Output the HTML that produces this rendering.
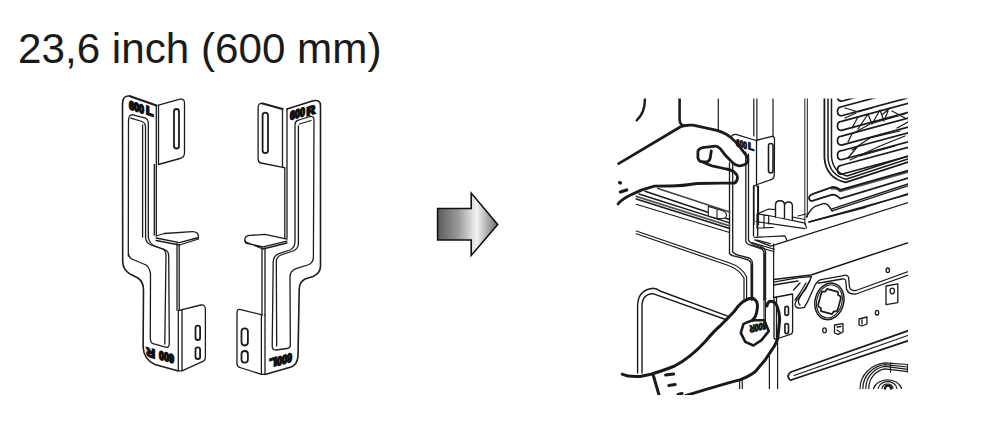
<!DOCTYPE html>
<html><head><meta charset="utf-8">
<style>
html,body{margin:0;padding:0;background:#fff;width:1000px;height:443px;overflow:hidden}
.t{position:absolute;left:18px;top:25px;font-family:"Liberation Sans",sans-serif;font-size:42.2px;color:#1a1a1a;white-space:nowrap}
svg{position:absolute;left:0;top:0}
</style></head><body>
<div class="t">23,6 inch (600 mm)</div>
<svg width="1000" height="443" viewBox="0 0 1000 443">
<defs>
<linearGradient id="ag" x1="437" y1="0" x2="498" y2="0" gradientUnits="userSpaceOnUse">
<stop offset="0" stop-color="#5a5a5a"/>
<stop offset="0.35" stop-color="#9a9a9a"/>
<stop offset="0.65" stop-color="#f2f2f2"/>
<stop offset="1" stop-color="#6a6a6a"/>
</linearGradient>
</defs>
<!-- LEFT BRACKET -->
<g fill="none" stroke="#1c1c1c" stroke-width="1.3" stroke-linejoin="round" stroke-linecap="round">
<!-- outer outline -->
<path d="M156.5,105.5 L130,96.2" stroke-width="2.2"/>
<path d="M130,96.2 Q122.5,95 122.5,104 L122.7,261.5 Q123,270 130,274 L138,278 Q143.5,282 143.5,290 L143.1,347.3 Q144,360 154.9,364.5 L177.4,370.8" stroke-width="1.6"/>
<!-- top flange -->
<path d="M158.5,105.2 L180,99.2 Q184.5,98.2 184.5,103 L184.5,152.5 Q184.5,157.5 180,158.5 L158.5,164.5"/>
<path d="M156.3,105.5 V235.5 M158.5,105.5 V164.5 M154.3,164.5 V235"/>
<rect x="174" y="109" width="5" height="39.5" rx="2.5" stroke-width="1.8"/>
<!-- tab -->
<path d="M156,236 L164.2,233.5 L192.2,231.7 Q198.5,231.5 198.5,237.5 L179.6,242.6 L156.1,238 M198.5,237.5 V239 L179.6,245 L156.1,240.5"/>
<path d="M177,243.5 V310.3 M179.2,244.5 V310.3"/>
<!-- bottom flange -->
<path d="M179.2,310.3 L200.9,305 Q205.4,304.5 205.4,309.4 L205.4,356.4 Q205.4,361 201.8,361.8 L182,370.8 L177.4,370.8 M178.3,310.3 V370.8 M182,310.3 V370.8"/>
<rect x="195.5" y="325.7" width="4.6" height="14.3" rx="2.3" stroke-width="1.8"/>
<rect x="195.5" y="347.3" width="4.6" height="11.7" rx="2.3" stroke-width="1.8"/>
<!-- inner cutout -->
<path d="M128.3,256 L128.5,121 Q128.5,114.3 133,114.8 L145.5,118.2 Q148.3,119.5 148.3,124 L148.3,237 Q149,244 156,246.5 L165,249.8 Q168.7,251 168.7,256 L169.3,343 Q169.3,347.5 166.6,347.3 L153,343.7 Q150.3,342.5 150.3,338 L150.5,274 Q150,268 146,265 L133,259.5 Q128.5,258 128.3,252"/>
<path d="M130.8,118.2 L142,121.5 Q145.5,123 145.5,127 L145.6,238 Q146,243 152,245.5 L163,249 Q166,251 166,256 L164.8,344"/>
<path d="M142.6,125 V237"/>
</g>
<!-- labels left bracket -->
<g font-family="Liberation Sans" font-weight="bold" fill="#111" stroke="#111" stroke-width="1.8">
<text x="0" y="0" font-size="12" transform="translate(129,109) skewY(18)" textLength="15" lengthAdjust="spacingAndGlyphs">600</text>
<text x="0" y="0" font-size="12" transform="translate(146,114) skewY(18)">L</text>
<text x="0" y="0" font-size="12" transform="translate(174,355) rotate(180) skewY(16)" textLength="15" lengthAdjust="spacingAndGlyphs">600</text>
<text x="0" y="0" font-size="12" transform="translate(155,350) rotate(180) skewY(16)">R</text>
</g>
<!-- RIGHT BRACKET -->
<g fill="none" stroke="#1c1c1c" stroke-width="1.3" stroke-linejoin="round" stroke-linecap="round">
<path d="M287,109 L313.2,100.8 Q320.5,99 320.5,106 L320.5,266 Q320.5,273 313,276.5 L305,279 Q299.2,282 299.2,290 L298,356.4 Q297,365 291,367 L265,374.4" stroke-width="1.6"/>
<path d="M282.5,109 L262.6,103.5" stroke-width="2.2"/>
<path d="M262.6,103.5 Q258.1,102.5 258.1,108 L258.1,159 Q258.1,162.5 261,163 L284.3,167.6"/>
<rect x="262.6" y="112.6" width="5.4" height="40.6" rx="2.7" stroke-width="1.8"/>
<path d="M282.5,109 V167.6 M287,109 V238 M284.8,167.6 V238.5"/>
<path d="M287,239.2 L265,234.4 L249.6,235.4 Q244.8,236 244.8,239.5 L245.8,243 L263,246.9 L287,241.1 M244.8,239.5 V241.5 L263,249 L287,243"/>
<path d="M262,247 V314.9 M265,248 V314.9"/>
<path d="M262.3,314.9 L239.7,309.4 Q237,309 237,313 L237,363.6 Q237,367 240,367.5 L261.4,374.4 L265,374.4 M261.4,314.9 V374.4 M265,314.9 V374.4"/>
<rect x="241.5" y="328.4" width="6.4" height="17.1" rx="3.2" stroke-width="1.8"/>
<rect x="241.5" y="351" width="6.4" height="11.7" rx="3.2" stroke-width="1.8"/>
<path d="M295,241 L295,125 Q295,120.7 299,120 L310,116.5 Q314,115.8 314,120 L313.4,257 Q313.4,262 309,264.5 L296,268.7 Q290,271 290,277 L290.3,345 Q290.3,348.2 287,348.5 L276,350 Q272.2,350 272.2,346 L273.2,262 Q273.2,256 279,253.7 L290,250 Q295,248 295,241"/>
<path d="M298.4,126 L298.4,243 Q298.4,249 293,251 L281,255 Q276.3,257 276.3,262 L276.7,346"/>
<path d="M299.5,124 L311,120.5"/>
</g>
<g font-family="Liberation Sans" font-weight="bold" fill="#111" stroke="#111" stroke-width="1.8">
<text x="0" y="0" font-size="12" transform="translate(290,120) skewY(-17)" textLength="15" lengthAdjust="spacingAndGlyphs">600</text>
<text x="0" y="0" font-size="12" transform="translate(306.5,116) skewY(-17)">R</text>
<text x="0" y="0" font-size="12" transform="translate(292,353) rotate(180) skewY(-17)" textLength="15" lengthAdjust="spacingAndGlyphs">600</text>
<text x="0" y="0" font-size="12" transform="translate(277,357) rotate(180) skewY(-17)">L</text>
</g>
<!-- ILLUSTRATION -->
<clipPath id="ic"><rect x="615" y="98.5" width="293" height="296.5"/></clipPath>
<g clip-path="url(#ic)" fill="none" stroke="#1a1a1a" stroke-linejoin="round" stroke-linecap="round">
<!-- back vertical lines -->
<g stroke-width="1.2">
<path d="M718.3,98 V130"/>
<path d="M753.8,98 V136 M756.9,98 V140.5"/>
<path d="M773,98 V136.4"/>
<path d="M804.8,98 V224.5 M807.4,98 V217" stroke="#444"/>
</g>
<!-- door frame -->
<g stroke-width="1.5">
<path d="M824.4,98 V158 Q826,178 845.7,182.4 L908,162" stroke-width="1.8"/>
<path d="M828,98 V158 Q829.5,175 846,179.2 L908,159"/>
<path d="M831.5,98 V157 Q833,172 847,176 L908,156"/>
</g>
<!-- slats -->
<g stroke-width="1.7">
<path d="M912,73.2 L841.5,92.2 Q837.5,92.5 837.5,96.7 Q837.5,101.2 841.5,101.2 L912,82.2"/>
<path d="M912,87.8 L841.5,106.8 Q837.5,107.1 837.5,111.3 Q837.5,115.8 841.5,115.8 L912,96.8"/>
<path d="M912,102.4 L841.5,121.4 Q837.5,121.7 837.5,125.9 Q837.5,130.4 841.5,130.4 L912,111.4"/>
<path d="M912,117.1 L841.5,136.1 Q837.5,136.4 837.5,140.6 Q837.5,145.1 841.5,145.1 L912,126.1"/>
<path d="M912,131.7 L841.5,150.7 Q837.5,151.0 837.5,155.2 Q837.5,159.7 841.5,159.7 L912,140.7"/>
<path d="M912,146.3 L841.5,165.3 Q837.5,165.60000000000002 837.5,169.8 Q837.5,174.3 841.5,174.3 L912,155.3"/>
</g>
<g stroke-width="1.25">
<path d="M845,108 L858,112 L872,108 M852,128 L858,117 M858,129 L868,114 L872,124 L880,110 L884,121 L888,111 M848,142 L852,134 L870,124 L905,114 M852,150 L870,138 L900,131 M848,158 L858,146 M850,160 L880,146 L905,136 M860,156 L895,146 M892,111 L905,118 M897,128 L908,122 M845,118 L856,113 M883,114 L890,108"/>
</g>
<!-- hand upper -->
<path d="M679.6,98 V120 Q680,125 684,125.5" stroke-width="2.6"/>
<path d="M645,98.6 Q645,113 636.7,120.3" stroke-width="2.4"/>
<path d="M618.6,163.6 C640,151 662,138 680.6,126.8 Q686,124.5 693,125.2 L716.9,130.3 Q722,132 726.3,134.2 Q731,137 735.8,142.1 L742.1,150 L746.9,156.3 Q748.5,160 747.7,161.1 Q747,163.5 745.3,164.2 Q742,166 739,165.8 Q735,165 732.7,162.7 L726.3,156.3 L720,148.4 Q717.5,146 715.3,146.1 L702.6,147.6 Q698,149 697.9,151.6 L697.9,157.9 Q699,161.9 702.6,161.9 L707.4,161.9 Q710.5,160 710.5,156.3 L711.3,150.8" stroke-width="2.8"/>
<path d="M702.6,161.9 Q706,164 712.1,165.8 L726.3,169 Q732,170 734.2,172.1 Q738,175 737.4,178.5 Q737,182 734.2,183.2 L721.6,183.2 L697,183.5 Q682,186 670,186 L654.4,186.1 Q642,189 630,195.2 Q622,199 618,204" stroke-width="2.8"/>
<path d="M619.5,182.6 L620.5,183 M620.4,192 L626.7,190" stroke-width="3.2"/>
<!-- bracket top in illustration -->
<g stroke-width="1.3">
<path d="M731.5,136.4 Q733,134 736,134.4 L755.9,140.5 L772,136.4 Q774.5,136 774.5,139.5 L774.3,175 Q774.3,179 770,180 L754.3,185.5"/>
<path d="M756.5,140.5 V186"/>
<rect x="768.5" y="143.5" width="4.5" height="29.5" rx="2.2" stroke-width="1.6"/>
<path d="M729.5,163 V253.4 Q731,256 737,256.6 L748,259.8 Q751.3,261 751.3,265 V300"/>
<path d="M732.7,163 V252 Q735,254.5 739,255.3 L749,258 Q752.5,259.5 752.5,264 V300"/>
<path d="M745.8,152 V240.8 Q746,244 751.3,245.5 L760.8,248.7 Q764,250 764,254 V300 M748.5,154 V240 Q749.5,243 754,244 L762,247 Q765.5,248.5 765.5,253 V300"/>
<path d="M753.5,186 V236 M757.7,186 V236"/>
</g>
<g font-family="Liberation Sans" font-weight="bold" fill="#1a1a1a" stroke="#1a1a1a" stroke-width="1.2">
<text x="0" y="0" font-size="10" transform="translate(736,146) skewY(17)" textLength="11" lengthAdjust="spacingAndGlyphs">600</text>
<text x="0" y="0" font-size="10" transform="translate(748,149) skewY(17)">L</text>
</g>
<!-- rails (oven shelf) -->
<g stroke-width="1.2">
<path d="M658,188.5 L729.6,212" stroke="#444" stroke-width="1.8"/>
<path d="M645,191.2 L729.6,219.5" stroke-width="1.5"/>
<path d="M639,194 L729.6,222.8" stroke-width="1.4"/>
<path d="M636.2,196.4 L729.6,225.8" stroke="#555" stroke-width="1.8"/>
<path d="M636.2,199 L729.6,228.5" stroke-width="1.4"/>
<path d="M636.2,204.3 L729.6,232.5" stroke-width="1.1"/>
<path d="M636.3,231 L729,262.8 Q742,267 746.6,277 V300"/>
<path d="M636.3,233.7 L727,265 Q739,269 744,278 V300"/>
</g>
<path d="M708.3,206.4 L717,209 L717,218.6 L708.3,216 Z M717,209 L722,210.5 Q726.6,212 726.6,215.5 Q726,219 720,218.6 L717,218.6" stroke-width="1.1" fill="#fff"/>
<!-- oven body lower -->
<g stroke-width="1.2">
<path d="M773.6,244 V297.5"/>
<path d="M832,188.6 Q836.2,187.5 840.2,191 L908,171.8" stroke="#555" stroke-width="2.4"/>
<path d="M908,170.5 L840.2,189.8 Q836.2,186.5 832.1,187.1 L813.1,193.9 Q809,195.5 809,198 Q809.5,201.5 813.1,200.7 L832.1,194.6 Q836.2,194.5 840.2,198.6 L908,178" stroke-width="1.8"/>
<path d="M832.1,208.8 L908,184 M832.1,210.8 L908,185.8" stroke-width="1.4"/>
<path d="M806.4,217 Q811,208 815.8,206.1 L824,203.4 Q828,203.5 830.7,208.8 L832.1,210.8" stroke-width="1.5"/>
<path d="M809,222 L865,207.5 L908,193.5" stroke-width="1.3"/>
<path d="M754,186 V224.5 M758.5,186 V224.5"/>
<path d="M757,214 L768.7,209 L775.5,209.7 M757,214 L768.7,215.5 L805,223.2 L806.6,228 M756,221.6 L805,228.7 M757,214 V228 L773.4,227.5 M764,215 V228 M768.7,215.5 V224"/>
<path d="M754.5,237.4 L784.5,235.8 Q786,237 786.9,240.5 M757,240 L770.3,243.7"/>
<path d="M751.8,242.5 L774.3,249.3 M751.8,245 L774.3,251.8"/>
</g>
<path d="M775.5,217 V205 Q775.5,200.8 780,200.8 Q784.5,200.8 784.5,205 V217.7 M784.5,218 V206 Q784.5,202 788.5,202 Q792.4,202 792.4,206 V220" stroke-width="1.4" fill="#fff"/>
<path d="M792.4,217 L805,219.5 M798,216 L806,214" stroke-width="1.1"/>
<!-- door handle frame -->
<path d="M637.6,373 V306.4 Q637.6,290 652.9,288.3 Q657,288.3 660,291 L729,316.6 M642,373 V306.4 Q642,294 652.9,293.7 L727,320" stroke-width="1.4"/>
<!-- oven front panel -->
<g stroke-width="1.3">
<path d="M809,222 L908,194.5"/>
<path d="M754.8,239.8 L770.8,246.2 L910,202"/>
<path d="M773.6,279.4 L811,275 L908.5,242.5" stroke-width="1.5"/>
<path d="M773.6,282.1 L798.9,277.6 L811.5,276.7 Q808,284 806,288.5 L798.9,297.5 Q794,303 795.3,306 Q797,309.5 804.3,307.4 L807.9,301.1 L815.1,284.9 Q818,280 822.3,279.4 L842.2,275.8 Q846.5,274 848.5,277 L849.5,287 Q851,291.5 856,290.5 L908.5,271.5"/>
<path d="M773.6,285 L798,281 M810,280.5 L803,292 L799,299 Q797.5,303 800,305 M818,283 L822.5,282.5 L842,279 Q845.5,278.5 845.8,281 L846.5,289 Q848,294.5 856,294 L908.5,275"/>
<path d="M793.5,290 L800,283 M795,300 L800,293 L806,283"/>
<path d="M774,297.5 V338 Q774,340 779.4,338 L790.3,334.4 Q792.6,334 792.6,331 V294 L774,297.5 M776.5,297 V338"/>
<rect x="784.9" y="306.4" width="3.6" height="9" rx="1.8" stroke-width="1.6"/>
<rect x="784.9" y="323.6" width="3.6" height="9.9" rx="1.8" stroke-width="1.6"/>
</g>
<!-- socket -->
<g stroke-width="1.5" transform="rotate(15 829.4 301.4)">
<ellipse cx="829.4" cy="301.4" rx="14.3" ry="18.5"/>
<ellipse cx="829.4" cy="301.4" rx="12.6" ry="16.8" stroke-width="1.1"/>
<path d="M823.8,290.0 L835.2,290.0 L836.1,293.0 L839.2,293.8 L839.6,296.8 L839.6,306.2 L839.2,309.1 L836.1,310.0 L835.2,313.0 L823.8,313.0 L822.9,310.0 L819.8,309.1 L819.4,306.2 L819.4,296.8 L819.8,293.8 L822.9,293.0 Z" stroke-width="1.7"/>
</g>
<g stroke-width="1.3">
<ellipse cx="824.5" cy="330.3" rx="1.8" ry="2.5"/>
<path d="M834.5,325 L843,323.6 L843,332 L838,334.4 L834.5,333 Z M837,327 L841,326.5 M837,330 L840,332"/>
<path d="M859,319 L867,317 L867,324 L862,326 L859,325 Z M862,320 L862,324"/>
<ellipse cx="877" cy="312.7" rx="1.7" ry="2.3"/>
<ellipse cx="887.8" cy="270.3" rx="1.7" ry="2.3"/>
<path d="M886,286 L897.8,283.8 L897.8,302.6 L886,304.6 Z"/>
<ellipse cx="892.3" cy="291" rx="2.2" ry="2.8"/>
</g>
<!-- long handle bar -->
<path d="M791,372 L907.7,330.8 M791,380 L907.7,340.8 M791,372 Q787,374.5 788.5,377.5 Q789.5,380.5 791,380" stroke-width="1.8"/>
<path d="M794,375.5 L907.7,335.5" stroke-width="1.2"/>
<!-- knob -->
<g stroke-width="1.2">
<path d="M860,388.5 A28,26 0 0 1 885,362.9 L907.7,364.5"/>
<path d="M862.9,388.5 A25,24 0 0 1 885,364.6 L907.7,367"/>
<path d="M865.8,388.5 A22,22 0 0 1 885,366.4 L907.7,369.3"/>
<path d="M868.8,388.5 A19,20 0 0 1 885,368.8 L907.7,371.7"/>
<path d="M873.5,388.5 A14.5,11.5 0 0 1 901.6,388.5"/>
<path d="M878.2,388.5 A9.5,8 0 0 1 897,388.5"/>
<path d="M882,388.5 A5.5,4.5 0 0 1 893,388.5"/>
<path d="M885,388.5 A3,3 0 0 1 891,388.5" stroke-width="2.5"/>
<path d="M890.5,363 V372 M907.7,364.5 V372"/>
</g>
<!-- hand lower -->
<path d="M751.3,265 V300 M752.5,264 V300 M764,254 V322 M765.5,253 V322" stroke-width="1.1"/>
<path d="M622.2,374.2 Q628,377 640,376.5 L651,374.2 Q665,370 674.6,366 Q690,358 704.8,342 Q715,330 720,326 Q728,318 734.4,311.2 Q740,303 745.3,300.4 Q750,297.5 753.5,298.5 Q757.5,301 757.5,306 Q757,313 755.2,316.7 L752.5,320.3" stroke-width="3"/>
<path d="M766.9,306 Q768,301 771,301.3 Q775,301.5 777,306 Q780,314 779.6,320 L777.8,338.3 Q775,346 772.3,349.2 L765.1,360 Q760,366 756.1,370.8 Q750,376 740.5,379.6 Q720,385 686,395.5" stroke-width="3"/>
<path d="M653.5,376 L659,395 M665.6,375 L673.6,374 M668.8,385.4 L675.2,384.4 M678,394.5 L682,393.5" stroke-width="3"/>
<path d="M752.5,320.3 L743.5,323.9 L740.8,332.9 L745.3,341.9 L753.4,345.5 L761.5,340.1 L768.7,331.1 L764.2,320.3 Z" stroke-width="2.6"/>
<path d="M739.6,380 V388.5 M742.3,379.5 V388.5 M769.4,356 V388.5 M777.6,338 V388.5" stroke-width="1.2"/>
<g font-family="Liberation Sans" font-weight="bold" fill="#1a1a1a" stroke="#1a1a1a" stroke-width="1.3">
<text x="0" y="0" font-size="10" transform="translate(766.5,322) rotate(180) skewY(-12)" textLength="17" lengthAdjust="spacingAndGlyphs">600R</text>
</g>
</g>
<!-- ARROW -->
<path d="M437.6,208.5 H471.2 V193.1 L497.7,224.4 L471.2,255.4 V240 H437.6 Z" fill="url(#ag)" stroke="#111" stroke-width="1.6" stroke-linejoin="miter"/>
</svg>
</body></html>
